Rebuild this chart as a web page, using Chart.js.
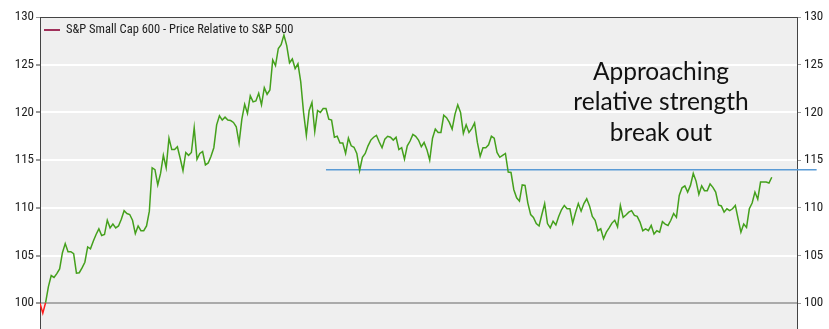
<!DOCTYPE html>
<html>
<head>
<meta charset="utf-8">
<script src="https://cdn.jsdelivr.net/npm/chart.js@4/dist/chart.umd.min.js"></script>
<style>
  html, body { margin: 0; padding: 0; background: #fff; }
  #wrap { width: 829px; height: 329px; position: relative; }
</style>
</head>
<body>
<div id="wrap"><canvas id="rs-chart" width="829" height="329"></canvas></div>
<script>
// weekly relative ratio
const seriesLabel = "S&P Small Cap 600 - Price Relative to S&P 500";
const ratioValues = [
  100.0, 98.95, 100.07, 101.75, 102.9, 102.7, 103.1, 103.6, 105.3, 106.25,
  105.4, 105.4, 105.2, 103.15, 103.2, 103.7, 104.3, 105.9, 105.7, 106.5,
  107.2, 107.8, 107.1, 107.2, 108.7, 107.9, 108.3, 107.9, 108.1, 108.8,
  109.7, 109.4, 109.3, 108.7, 107.3, 108.1, 107.6, 107.6, 108.1, 109.65,
  114.2, 114.0, 112.4, 113.6, 115.5, 114.2, 117.3, 116.1, 116.1, 116.4,
  115.2, 113.9, 115.8, 115.5, 115.8, 118.4, 115.1, 115.7, 115.9, 114.5,
  114.7, 115.4, 116.3, 118.7, 119.65, 119.2, 119.5,
  119.2, 119.15, 118.95, 118.5, 116.8, 119.3, 120.85, 119.9, 121.75, 121.1,
  121.2, 122.0, 120.8, 122.6, 121.9, 122.35, 125.5, 124.9, 126.7, 127.1,
  128.1, 127.0, 125.2, 125.6, 124.6, 125.1, 123.2, 120.0, 117.6, 120.2,
  121.05, 118.0, 120.2, 120.0, 120.4, 120.4, 119.3, 119.2, 117.4, 117.5,
  116.8, 116.8, 115.7, 117.3, 116.5, 116.35, 115.7, 113.9, 115.3, 115.7,
  116.5, 117.1, 117.4, 117.6, 116.9, 116.3, 117.2, 117.5, 117.4, 117.1,
  117.4, 116.1, 116.3, 115.1, 116.5,
  117.0, 117.7, 117.5, 117.1, 116.4, 116.85, 116.1, 115.0, 117.3, 118.25,
  117.9, 117.9, 119.7, 119.45, 118.95, 118.25, 119.8, 120.8, 120.0, 117.8,
  118.7, 117.9, 118.3, 118.9, 116.85, 115.4, 116.3, 116.3, 116.6, 117.5,
  117.3, 115.8, 115.3, 115.5, 115.7, 113.75, 113.7, 111.9, 111.05, 110.7,
  112.4, 112.35, 110.5, 109.3, 109.0, 108.35, 108.1, 109.3, 110.45, 108.35,
  107.9, 108.6, 108.2, 109.1, 109.8, 110.25, 109.9, 109.9, 108.4, 109.5,
  110.45, 109.65, 110.45, 110.95, 110.2, 109.1,
  108.7, 107.6, 107.8, 106.75, 107.45, 107.9, 108.4, 108.7, 108.0, 110.25,
  109.0, 109.25, 109.55, 109.7, 109.2, 109.1, 108.5, 107.6, 107.8, 107.6,
  108.15, 107.25, 107.6, 107.45, 108.55, 108.3, 108.15, 108.7, 109.4, 109.0,
  111.3, 112.1, 112.3, 111.65, 112.35, 113.6, 112.8, 111.4, 112.3, 111.8,
  111.8, 112.5, 112.15, 111.65, 110.3, 110.2, 109.55, 109.9, 109.7, 109.9,
  110.25, 108.85, 107.45, 108.3, 107.95, 109.9, 110.5, 111.65, 110.9, 112.7,
  112.7, 112.7, 112.6, 113.2
];
// breakout level line: start / end week and level
const breakoutWeeks = [102, 277];
const breakoutLevel = 114;
const yTicks = [100, 105, 110, 115, 120, 125, 130];
const noteLines = ["Approaching", "relative strength", "break out"];

const GREEN = "#44a01c";
const RED = "#ff1a1a";
const below = ctx => ctx.p0.parsed.y < 100 || ctx.p1.parsed.y < 100;

var ratioPoints = [];
for (let i = 0; i < ratioValues.length; i++) {
  ratioPoints.push({x: i, y: ratioValues[i]});
}

const tickFont = {family: "'Liberation Sans Narrow', 'Arial Narrow', 'Roboto Condensed', Roboto, sans-serif", size: 13};

const plotBg = {
  id: "plotBg",
  beforeDraw: function (chart) {
    let a = chart.chartArea, c = chart.ctx;
    c.save();
    c.fillStyle = "#efefef";
    c.fillRect(a.left, a.top, a.right - a.left, a.bottom - a.top);
    c.restore();
  }
};

const legendNote = {
  id: "legendNote",
  afterDatasetsDraw: function (chart) {
    let a = chart.chartArea, c = chart.ctx;
    c.save();
    // legend
    c.strokeStyle = "#a0305a";
    c.lineWidth = 2;
    c.beginPath();
    c.moveTo(a.left + 4, 30);
    c.lineTo(a.left + 20, 30);
    c.stroke();
    c.fillStyle = "#222";
    c.font = "12.5px " + tickFont.family;
    c.textBaseline = "middle";
    c.fillText(chart.data.datasets[0].label, a.left + 26, 30);
    // note
    c.font = "24.5px Lato, 'Open Sans', sans-serif";
    c.textAlign = "center";
    c.fillStyle = "#111";
    for (let i = 0; i < noteLines.length; i++) {
      c.fillText(noteLines[i], 661, 72 + i * 30.5);
    }
    c.restore();
  }
};

function noPad(s, w) {
  s.width = w;
  s.paddingTop = 0;
  s.paddingBottom = 0;
}

new Chart(document.getElementById("rs-chart"), {
  type: "line",
  data: {
    datasets: [{
      label: seriesLabel,
      data: ratioPoints,
      borderColor: "#a0305a",
      borderWidth: 1.5,
      pointRadius: 0,
      tension: 0,
      segment: {
        borderColor: ctx => below(ctx) ? RED : GREEN
      }
    }, {
      label: "breakout",
      data: breakoutWeeks.map(w => ({x: w, y: breakoutLevel})),
      borderColor: "#5b9bd5",
      borderWidth: 1.5,
      pointRadius: 0,
      clip: false
    }]
  },
  options: {
    responsive: false,
    animation: false,
    layout: { padding: { top: 17, bottom: 0, left: 0, right: 0 } },
    plugins: {
      legend: { display: false },
      tooltip: { enabled: false }
    },
    scales: {
      x: {
        type: "linear",
        display: false,
        min: 0,
        max: 270
      },
      y: {
        position: "left",
        min: 97.3,
        max: 130,
        afterBuildTicks: s => { s.ticks = yTicks.map(v => ({value: v})); },
        afterFit: s => noPad(s, 40),
        border: { display: true, color: "#444", width: 1 },
        grid: {
          color: c => c.tick.value == 100 ? "#aaaaaa" : (c.tick.value == 130 ? "#444" : "#ffffff"),
          lineWidth: c => c.tick.value == 130 ? 1 : 2,
          tickLength: 4,
          tickColor: "#999"
        },
        ticks: { font: tickFont, color: "#222", padding: 2 }
      },
      y2: {
        position: "right",
        min: 97.3,
        max: 130,
        afterBuildTicks: s => { s.ticks = yTicks.map(v => ({value: v})); },
        afterFit: s => noPad(s, 32),
        border: { display: true, color: "#444", width: 1 },
        grid: { drawOnChartArea: false, tickLength: 4, tickColor: "#999" },
        ticks: { font: tickFont, color: "#222", padding: 3 }
      }
    }
  },
  plugins: [plotBg, legendNote]
});
</script>
</body>
</html>
